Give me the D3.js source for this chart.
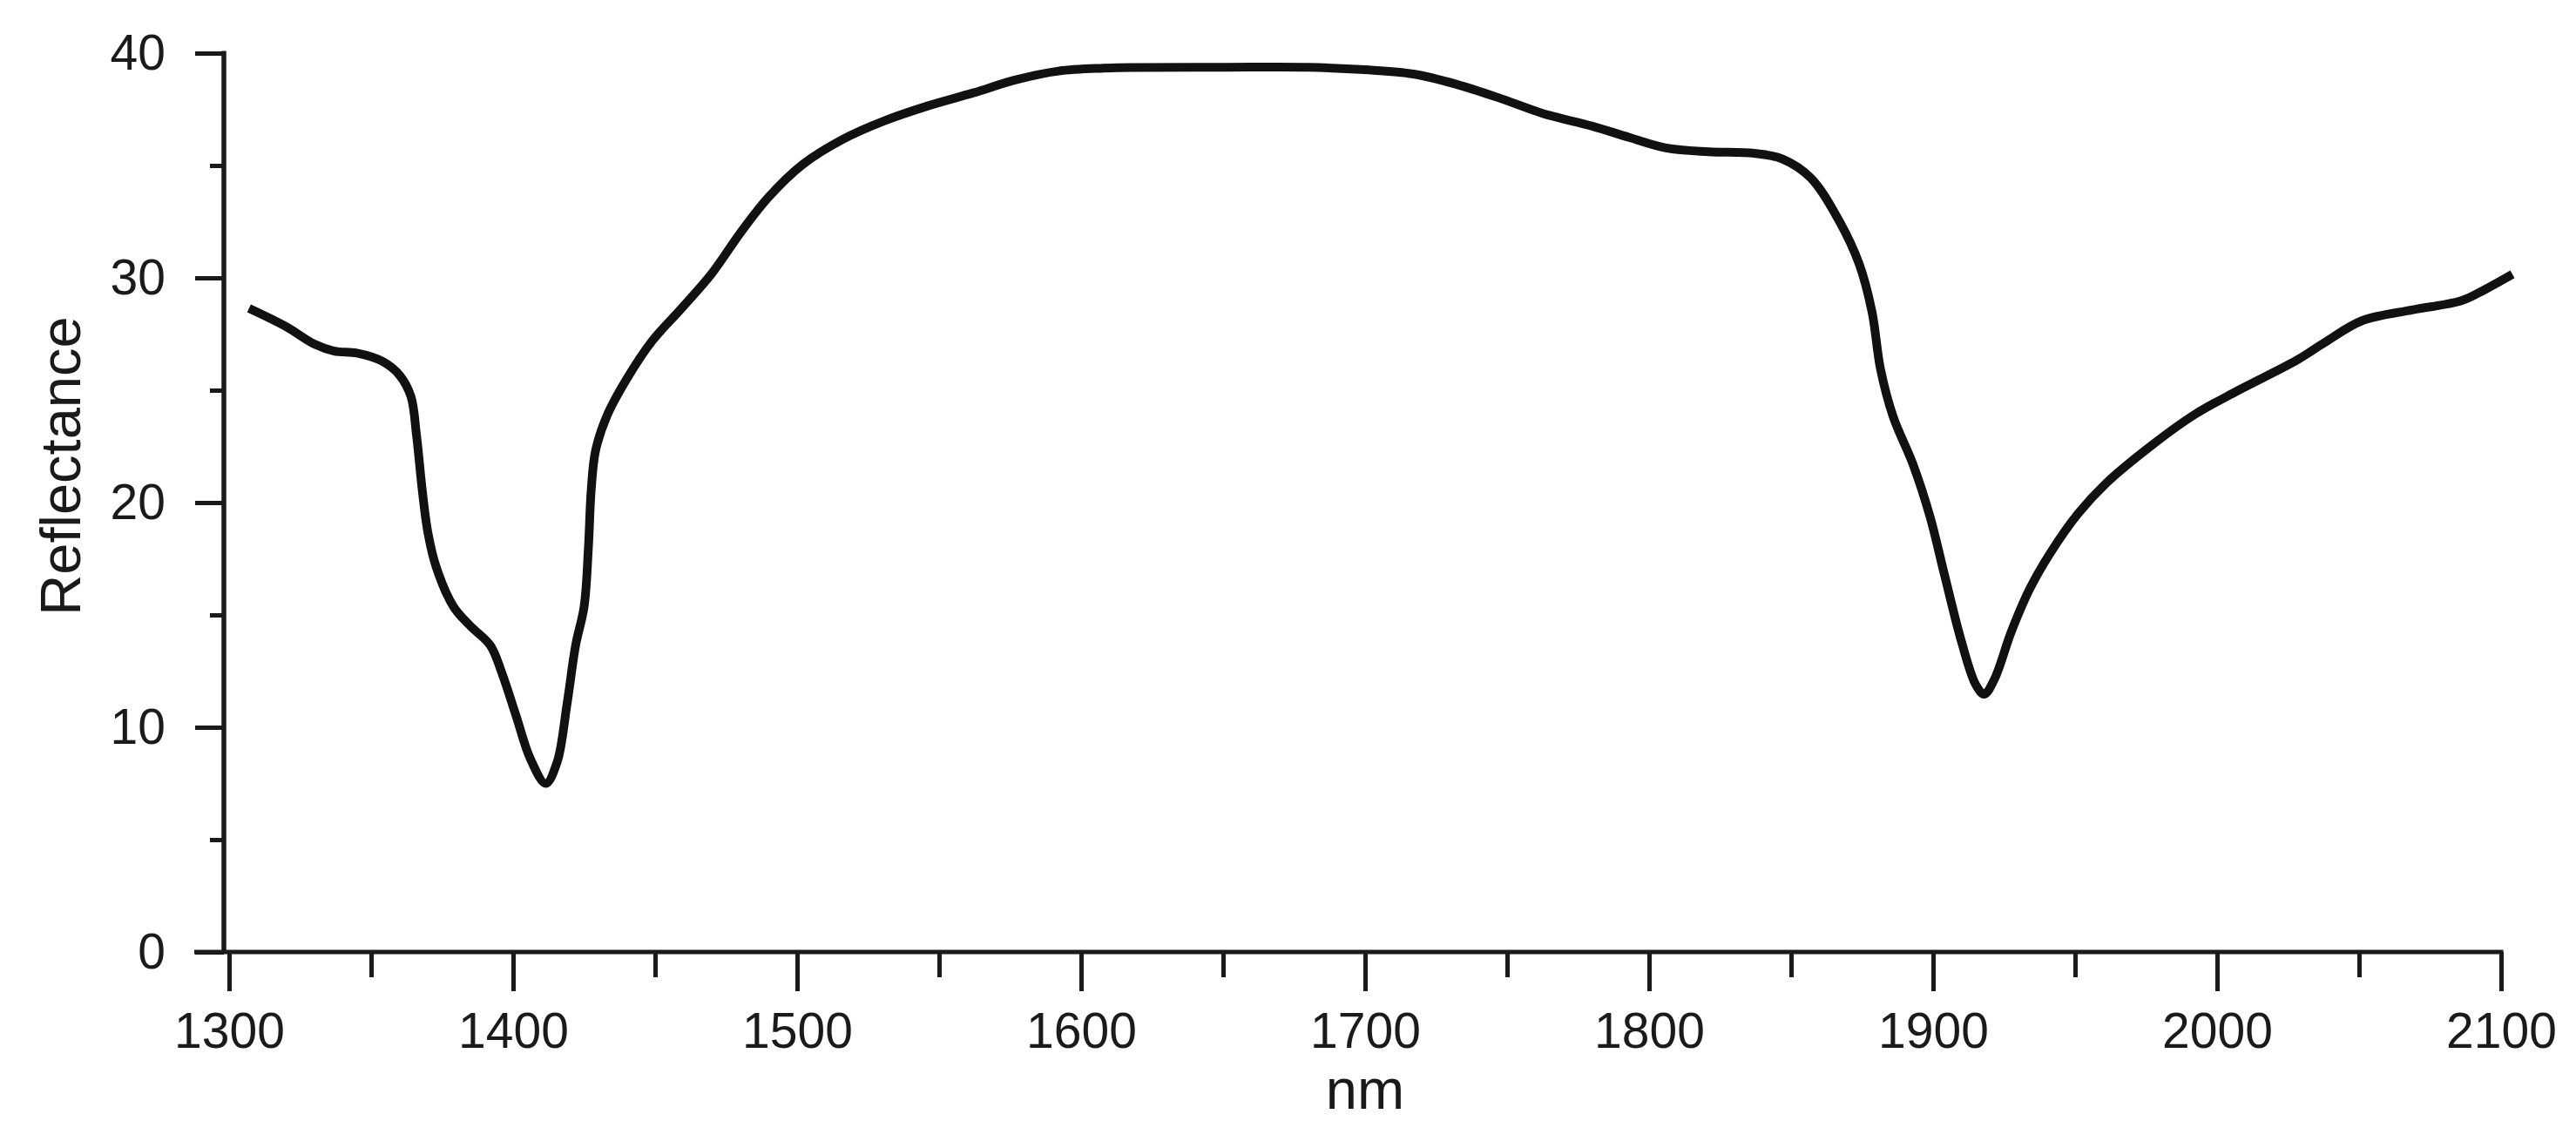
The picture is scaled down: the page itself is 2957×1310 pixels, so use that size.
<!DOCTYPE html>
<html lang="en">
	<head>
		<meta charset="utf-8">
		<title>Reflectance spectrum</title>
		<script src="https://cdn.jsdelivr.net/npm/d3@7"></script>
		<style type="text/css">
			body {
				margin: 0px;
				background: white;
			}
			text {
				font-family: "Liberation Sans", Arial, sans-serif;
				fill: #1a1a1a;
			}
		</style>
	</head>
	<body>
		<div id="chart"></div>
		<script type="text/javascript">
			//Data
			var wavelength = [1307, 1320, 1330, 1337, 1345, 1354, 1360, 1364, 1366, 1368, 1370, 1373, 1379, 1385, 1392, 1396, 1401, 1406, 1411.5, 1415.5, 1419, 1422, 1425, 1426.5, 1427.5, 1429, 1433, 1440, 1449, 1459, 1470, 1480, 1490, 1502, 1516, 1531, 1546, 1562, 1577, 1592, 1608, 1620, 1650, 1680, 1700, 1717, 1732, 1748, 1763, 1780, 1793, 1806, 1821, 1837, 1847, 1857, 1867, 1874, 1878.5, 1881.5, 1886, 1893, 1899, 1904, 1910, 1915, 1918, 1921.5, 1927.5, 1934, 1941, 1951, 1961, 1977, 1992, 2007, 2028, 2038, 2051, 2069, 2086, 2094, 2104];
			var reflectance = [28.64, 27.83, 27.05, 26.74, 26.65, 26.28, 25.67, 24.73, 22.98, 20.56, 18.66, 17.1, 15.37, 14.5, 13.64, 12.43, 10.53, 8.62, 7.5, 8.45, 11.05, 13.64, 15.37, 17.97, 20.56, 22.29, 23.85, 25.5, 27.2, 28.6, 30.2, 32.0, 33.6, 35.05, 36.16, 37.0, 37.65, 38.23, 38.81, 39.2, 39.33, 39.36, 39.37, 39.37, 39.26, 39.07, 38.62, 37.97, 37.3, 36.75, 36.25, 35.78, 35.61, 35.54, 35.29, 34.44, 32.52, 30.61, 28.48, 25.93, 23.8, 21.68, 19.34, 16.79, 13.81, 11.9, 11.47, 12.11, 14.24, 16.15, 17.7, 19.5, 20.87, 22.55, 23.91, 24.96, 26.33, 27.13, 28.09, 28.58, 28.98, 29.46, 30.16];

			var xMajor = [1300, 1400, 1500, 1600, 1700, 1800, 1900, 2000, 2100];
			var xMinor = [1350, 1450, 1550, 1650, 1750, 1850, 1950, 2050];
			var yMajor = [0, 10, 20, 30, 40];
			var yMinor = [5, 15, 25, 35];

			var points = wavelength.map(function(d, i) { return [d, reflectance[i]]; });

			//Width and height
			var w = 2957;
			var h = 1310;
			var ink = "#1a1a1a";

			var svg = d3.select("#chart")
				.append("svg")
				.attr("width", w)
				.attr("height", h);

			var x = d3.scaleLinear()
				.domain([1300, 2100])
				.range([263, 2871]);

			var y = d3.scaleLinear()
				.domain([0, 40])
				.range([1093, 61]);

			var yAxisX = 257;

			//Y axis (major with labels, then minor)
			svg.append("g")
				.attr("transform", "translate(" + yAxisX + ",0)")
				.call(d3.axisLeft(y).tickValues(yMajor).tickSize(33).tickSizeOuter(0).tickPadding(34));
			svg.append("g")
				.attr("transform", "translate(" + yAxisX + ",0)")
				.call(d3.axisLeft(y).tickValues(yMinor).tickSize(16).tickSizeOuter(0).tickFormat(""));

			//X axis
			svg.append("g")
				.attr("transform", "translate(0," + y(0) + ")")
				.call(d3.axisBottom(x).tickValues(xMajor).tickSize(45).tickSizeOuter(0).tickPadding(25).tickFormat(d3.format("d")));
			svg.append("g")
				.attr("transform", "translate(0," + y(0) + ")")
				.call(d3.axisBottom(x).tickValues(xMinor).tickSize(29).tickSizeOuter(0).tickFormat(""));

			svg.selectAll(".domain").remove();
			svg.selectAll(".tick line")
				.attr("stroke", ink)
				.attr("stroke-width", 5);
			svg.selectAll(".tick text")
				.style("font-size", "57px")
				.style("font-family", "'Liberation Sans', Arial, sans-serif")
				.attr("fill", ink);

			//Axis lines
			svg.append("line")
				.attr("x1", yAxisX).attr("x2", yAxisX)
				.attr("y1", y(40) - 2.5).attr("y2", y(0))
				.attr("stroke", ink)
				.attr("stroke-width", 5.5);
			svg.append("line")
				.attr("x1", yAxisX - 34).attr("x2", x(2100) + 2.5)
				.attr("y1", y(0)).attr("y2", y(0))
				.attr("stroke", ink)
				.attr("stroke-width", 5);

			//Axis titles
			svg.append("text")
				.attr("x", x(1700))
				.attr("y", 1273)
				.attr("text-anchor", "middle")
				.style("font-size", "65px")
				.text("nm");

			svg.append("text")
				.attr("transform", "translate(92," + 535 + ") rotate(-90)")
				.attr("text-anchor", "middle")
				.style("font-size", "65px")
				.text("Reflectance");

			//Spectrum line
			var line = d3.line()
				.x(function(d) { return x(d[0]); })
				.y(function(d) { return y(d[1]); })
				.curve(d3.curveCatmullRom.alpha(0.5));

			svg.append("path")
				.datum(points)
				.attr("d", line)
				.attr("fill", "none")
				.attr("stroke", "#111")
				.attr("stroke-width", 10)
				.attr("stroke-linejoin", "round")
				.attr("stroke-linecap", "butt");
		</script>
	</body>
</html>
